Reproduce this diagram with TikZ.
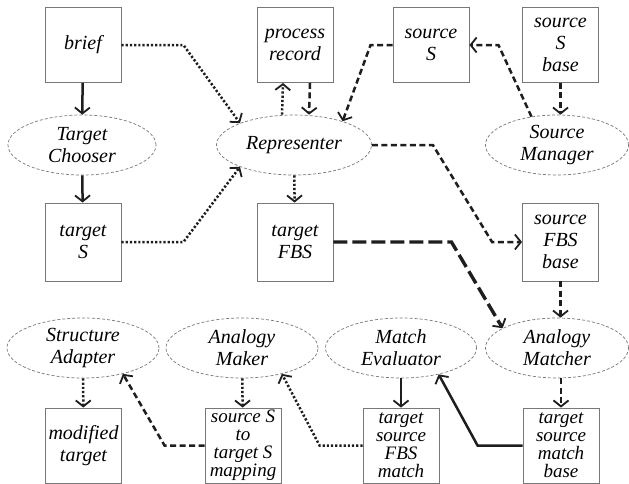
\documentclass[tikz,border=0pt]{standalone}
\usepackage{fontspec}
\setmainfont{Liberation Serif}
\usetikzlibrary{arrows.meta,shapes.geometric,calc}
\definecolor{ink}{RGB}{30,30,30}
\definecolor{frame}{RGB}{120,120,120}

\begin{document}
\begin{tikzpicture}[x=1pt,y=-1pt,
    box/.style={draw=frame,line width=0.9pt,minimum width=76pt,minimum height=75pt,
                inner sep=0pt,align=center,font=\fontsize{20}{22}\selectfont\itshape},
    tallbox/.style={box,font=\fontsize{19}{18}\selectfont\itshape},
    agent/.style={ellipse,draw=frame,line width=0.7pt,dash pattern=on 3pt off 2pt,
                  minimum height=60pt,inner sep=0pt,align=center,
                  font=\fontsize{20}{22}\selectfont\itshape},
    link/.style={-{Straight Barb[length=6pt,width=15pt,line width=1.8pt]},
                 line width=2.5pt,draw=ink},
    dotlink/.style={link,dash pattern=on 2.2pt off 2pt},
    dashlink/.style={link,dash pattern=on 6pt off 3.5pt},
    longlink/.style={link,line width=3.4pt,dash pattern=on 14pt off 5pt}]
    \fill[white] (0,0) rectangle (629,483);
    \useasboundingbox (0,0) rectangle (629,483);

    % top row
    \node[box] (brief)    at (83,45)    {brief};
    \node[box] (proc)     at (295,45)   {process\\record};
    \node[box] (srcS)     at (431,45)   {source\\S};
    \node[box] (srcSbase) at (560.5,45) {source\\S\\base};

    % agents
    \node[agent,minimum width=148pt] (chooser) at (82,145)  {Target\\Chooser};
    \node[agent,minimum width=155pt] (repr)    at (294,145) {Representer};
    \node[agent,minimum width=143pt] (srcmgr)  at (557,145) {Source\\Manager};

    % middle row
    \node[box,minimum height=78pt] (tgtS)   at (83,242)    {target\\S};
    \node[box,minimum height=78pt] (tgtFBS) at (295,242)   {target\\FBS};
    \node[box,minimum height=78pt] (srcFBS) at (560.5,242) {source\\FBS\\base};

    \node[agent,minimum width=152pt] (adapter)   at (83,348)  {Structure\\Adapter};
    \node[agent,minimum width=152pt] (maker)     at (242,348) {Analogy\\Maker};
    \node[agent,minimum width=151pt] (evaluator) at (401,348) {Match\\Evaluator};
    \node[agent,minimum width=143pt] (matcher)   at (557,348) {Analogy\\Matcher};

    % bottom row
    \node[box]     (modified)  at (83.5,445.5) {modified\\target};
    \node[tallbox] (mapping)   at (243,445.5)  {source S\\to\\target S\\mapping};
    \node[tallbox] (fbsmatch)  at (401,445.5)  {target\\source\\FBS\\match};
    \node[tallbox] (matchbase) at (561,445.5)  {target\\source\\match\\base};

    % connectors
    \draw[link] (brief) -- (chooser);
    \draw[link] (chooser) -- (tgtS);
    \draw[dotlink] (brief.east) -- ++(62,0) -- (repr.158);
    \draw[dotlink] (tgtS.east) -- ++(62,0) -- (repr.202);
    \draw[dotlink] ([xshift=-12pt]repr.north) -- ([xshift=-12pt]proc.south);
    \draw[dashlink] ([xshift=15pt]proc.south) -- ([xshift=15pt]repr.north);
    \draw[dotlink] (repr) -- (tgtFBS);
    \draw[dashlink] (srcS.west) -- ++(-22,0) -- (repr.26);
    \draw[dashlink] (srcmgr.132) -- ([xshift=29pt]srcS.east) -- (srcS.east);
    \draw[dashlink] (srcSbase.south) -- (srcSbase.south |- srcmgr.north);
    \draw[dashlink] (repr.east) -- ++(61,0) -- ([xshift=-30pt]srcFBS.west) -- (srcFBS.west);
    \draw[longlink] (tgtFBS.east) -- ++(118,0) -- (matcher.160);
    \draw[dashlink] (srcFBS.south) -- (srcFBS.south |- matcher.north);
    \draw[dashlink] (matchbase.north |- matcher.south) -- (matchbase.north);
    \draw[link] (matchbase.west) -- ++(-45,0) -- (evaluator.-35);
    \draw[link] (evaluator) -- (fbsmatch);
    \draw[dotlink] (fbsmatch.west) -- ++(-43,0) -- (maker.-33);
    \draw[dotlink] (maker) -- (mapping);
    \draw[dashlink] (mapping.west) -- ++(-40,0) -- (adapter.-33);
    \draw[dotlink] (adapter) -- (modified);
\end{tikzpicture}
\end{document}
